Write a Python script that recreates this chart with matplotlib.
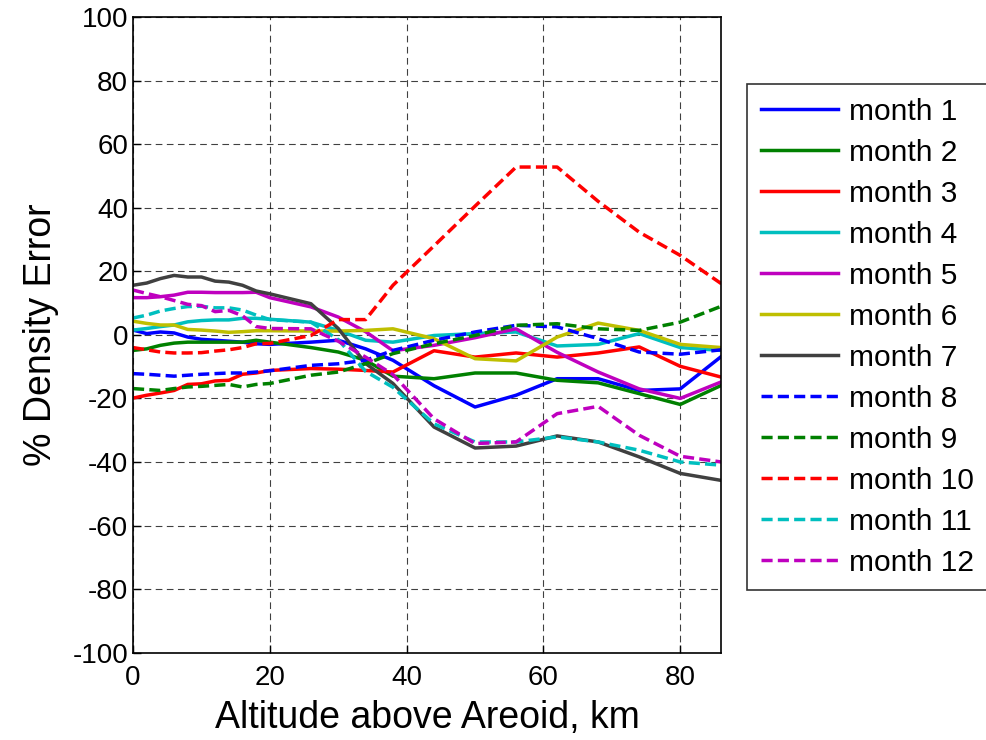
import matplotlib
matplotlib.use("Agg")
import matplotlib.pyplot as plt

plt.rcParams['font.family'] = ['Liberation Sans', 'DejaVu Sans']
plt.rcParams['axes.unicode_minus'] = False

# altitude grid, km
altitude = [0, 2, 4, 6, 8, 10, 12, 14, 16, 18, 20, 26, 30, 34, 38,
            44, 50, 56, 62, 68, 74, 80, 86]

# % density error per month
month1 = [1.5, 0.4, 0.9, 0.6, -0.7, -1.4, -1.7, -2.0, -2.3, -2.8, -3.0,
          -2.3, -1.7, -4.4, -8.0, -16.0, -22.7, -19.0, -13.8, -13.8, -17.5, -17.0, -6.8]
month2 = [-4.9, -4.4, -3.3, -2.6, -2.3, -2.3, -2.3, -2.3, -2.3, -1.7, -2.3,
          -4.0, -5.4, -8.0, -13.0, -13.8, -12.0, -12.0, -14.3, -15.1, -18.5, -21.9, -15.9]
month3 = [-19.9, -19.0, -18.3, -17.5, -15.6, -15.4, -14.5, -14.3, -12.4, -12.0, -11.2,
          -10.6, -10.8, -11.2, -11.7, -5.0, -7.0, -5.7, -7.0, -5.7, -3.8, -9.9, -13.3]
month4 = [1.5, 2.0, 2.6, 3.1, 4.1, 4.5, 4.7, 4.7, 5.2, 5.2, 4.9,
          4.0, 1.4, -1.7, -2.3, -0.2, 0.4, 0.9, -3.5, -3.0, 0.4, -4.0, -4.9]
month5 = [11.7, 11.7, 12.0, 12.5, 13.4, 13.4, 13.3, 13.3, 13.3, 13.4, 11.7,
          8.8, 5.6, 1.0, -5.0, -3.3, -0.9, 1.9, -5.5, -11.7, -17.0, -20.0, -14.8]
month6 = [4.3, 3.6, 3.1, 3.1, 1.7, 1.5, 1.2, 0.8, 1.0, 1.3, 1.3,
          1.2, 1.2, 1.4, 1.9, -1.2, -7.5, -8.2, -0.7, 3.7, 1.4, -3.0, -4.0]
month7 = [15.6, 16.3, 17.7, 18.7, 18.2, 18.2, 16.9, 16.6, 15.6, 13.8, 12.9,
          9.8, 2.0, -9.0, -15.3, -29.0, -35.6, -35.0, -31.8, -33.7, -38.4, -43.6, -45.8]
month8 = [-12.2, -12.4, -12.7, -13.0, -12.7, -12.4, -12.2, -12.0, -12.0, -11.7, -11.3,
          -9.6, -9.1, -8.0, -4.9, -1.7, 0.9, 3.0, 2.5, -1.2, -5.4, -6.1, -4.7]
month9 = [-16.9, -17.2, -17.5, -16.9, -16.4, -16.2, -15.9, -15.6, -16.4, -15.6, -15.3,
          -12.7, -11.7, -9.1, -5.9, -2.8, -0.2, 3.0, 3.5, 1.9, 1.4, 4.0, 9.0]
month10 = [-4.0, -4.7, -5.4, -5.7, -5.7, -5.6, -5.1, -4.7, -4.0, -2.8, -2.7,
           -0.2, 4.8, 4.8, 15.6, 28.0, 40.5, 52.8, 52.8, 42.0, 32.3, 25.0, 16.1]
month11 = [5.3, 6.2, 7.5, 8.3, 8.9, 9.0, 8.5, 8.5, 7.8, 6.2, 4.8,
           4.0, -1.5, -11.5, -16.5, -28.0, -33.7, -33.7, -32.1, -33.7, -36.3, -40.0, -41.0]
month12 = [14.1, 13.0, 12.0, 10.8, 9.6, 9.2, 7.3, 7.7, 6.0, 2.6, 2.0,
           1.9, -2.0, -7.0, -12.5, -26.4, -34.2, -33.7, -24.8, -22.5, -31.6, -38.2, -40.0]

series = [month1, month2, month3, month4, month5, month6, month7,
          month8, month9, month10, month11, month12]
labels = ["month %d" % (i + 1) for i in range(12)]

# MATLAB default line colours b, g, r, c, m, y, k
colors = [(0, 0, 1), (0, 0.5, 0), (1, 0, 0), (0, 0.75, 0.75),
          (0.75, 0, 0.75), (0.75, 0.75, 0), (0.25, 0.25, 0.25)]

fig = plt.figure(figsize=(9.87, 7.4), dpi=100)
ax = fig.add_axes([0.1348, 0.118, 0.596, 0.859])

for i, (vals, lab) in enumerate(zip(series, labels)):
    c = colors[i % 7]
    if i < 7:
        ax.plot(altitude, vals, color=c, lw=2.5, label=lab)
    else:
        ax.plot(altitude, vals, color=c, lw=2.5, ls=(0, (3.2, 1.5)), label=lab)

ax.set_xlim(0, 86)
ax.set_ylim(-100, 100)
ax.set_xticks([0, 20, 40, 60, 80])
ax.set_yticks(range(-100, 101, 20))
ax.grid(True, color="black", lw=0.8, ls=(0, (6, 4)), alpha=0.75)
ax.tick_params(direction="in", labelsize=20, length=6, width=1)
ax.tick_params(axis="x", pad=9)
for sp in ax.spines.values():
    sp.set_linewidth(1.2)

ax.set_xlabel("Altitude above Areoid, km", fontsize=27, labelpad=6)
ax.set_ylabel("% Density Error", fontsize=27, labelpad=10)

leg = fig.legend(loc="upper left", bbox_to_anchor=(0.757, 0.886),
                 fontsize=21.5, frameon=True, fancybox=False, shadow=False,
                 handlelength=2.6, handletextpad=0.35, labelspacing=0.435,
                 borderpad=0.45, borderaxespad=0)
leg.get_frame().set_edgecolor("black")
leg.get_frame().set_linewidth(1.2)

fig.savefig("out.png", dpi=100)
